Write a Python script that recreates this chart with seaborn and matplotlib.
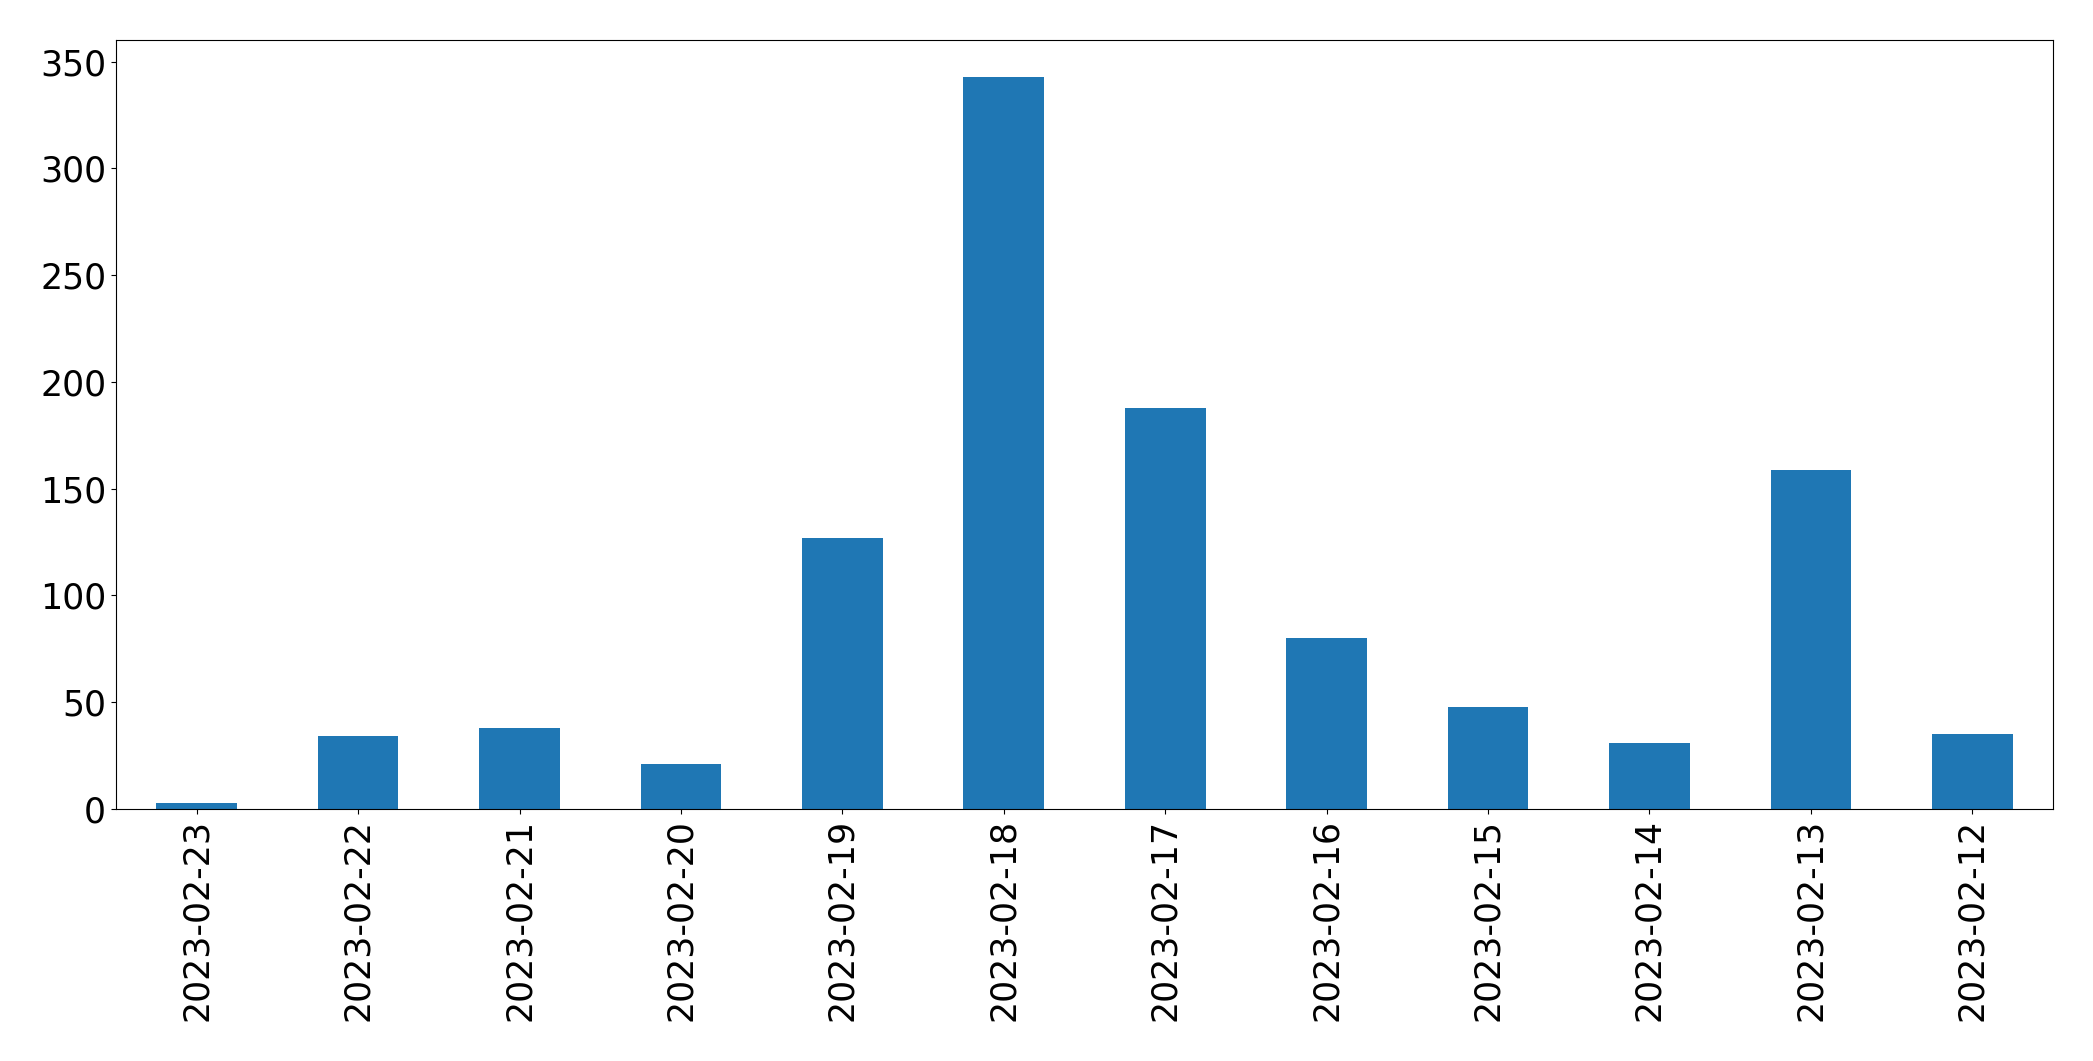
import pandas as pd
import matplotlib
matplotlib.use("Agg")
import matplotlib.pyplot as plt
import seaborn as sns

# daily counts, newest first (as in the original)
dates = ["2023-02-23", "2023-02-22", "2023-02-21", "2023-02-20", "2023-02-19", "2023-02-18",
         "2023-02-17", "2023-02-16", "2023-02-15", "2023-02-14", "2023-02-13", "2023-02-12"]
counts = [3, 34, 38, 21, 127, 343, 188, 80, 48, 31, 159, 35]

df = pd.DataFrame({"date": dates, "count": counts})

fig, ax = plt.subplots(figsize=(20.93, 10.61), dpi=100)
sns.barplot(data=df, x="date", y="count", order=dates, color="#1f77b4",
            saturation=1, width=0.5, ax=ax)
ax.set_xlim(-0.5, len(dates) - 0.5)
ax.set_ylim(0, max(counts) * 1.05)
ax.set_xlabel("")
ax.set_ylabel("")
ax.tick_params(axis="x", labelrotation=90, labelsize=25)
ax.tick_params(axis="y", labelsize=25)

fig.subplots_adjust(left=0.0554, right=0.9809, top=0.9623, bottom=0.2375)
fig.savefig("out.png", dpi=100)
